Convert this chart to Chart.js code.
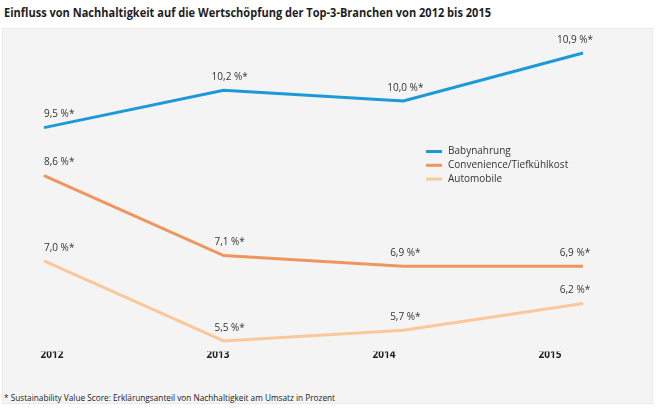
<!DOCTYPE html>
<html>
<head>
<meta charset="utf-8">
<script src="https://cdn.jsdelivr.net/npm/chart.js@4"></script>
<style>
  html, body { margin: 0; padding: 0; background: #ffffff; width: 656px; height: 409px; overflow: hidden; }
  #title { position: absolute; left: 4px; top: 3px; font-family: "Liberation Sans Narrow", "Open Sans", sans-serif; font-weight: bold; font-size: 13px; color: #1e1e1e; white-space: nowrap; transform-origin: 0 0; }
  #panel { position: absolute; left: 2px; top: 28px; width: 649px; height: 374px; background: #f4f4f4; border: 1px solid #ebebeb; }
  #note { position: absolute; left: 4px; top: 391px; font-family: "Liberation Sans Narrow", "Open Sans", sans-serif; font-size: 9px; color: #222; white-space: nowrap; transform-origin: 0 0; }
  #wrap { position: absolute; left: 0; top: 0; width: 656px; height: 409px; }
</style>
</head>
<body>
<div id="title">Einfluss von Nachhaltigkeit auf die Wertschöpfung der Top-3-Branchen von 2012 bis 2015</div>
<div id="panel"></div>
<div id="note">* Sustainability Value Score: Erklärungsanteil von Nachhaltigkeit am Umsatz in Prozent</div>
<div id="wrap"><canvas id="c" width="656" height="409"></canvas></div>
<script>
const years = ["2012", "2013", "2014", "2015"];
const seriesNames = ["Babynahrung", "Convenience/Tiefkühlkost", "Automobile"];
const babynahrung = [9.5, 10.2, 10.0, 10.9];
const convenience = [8.6, 7.1, 6.9, 6.9];
const automobile = [7.0, 5.5, 5.7, 6.2];
const seriesColors = ["#1b9ad7", "#ee965e", "#fac89a"];

function fitWidth(id, target) {
  const el = document.getElementById(id);
  const w = el.getBoundingClientRect().width;
  if (w > 0) el.style.transform = "scaleX(" + (target / w) + ")";
}
fitWidth("title", 487);
fitWidth("note", 331);

const labelPlugin = {
  id: "valueLabels",
  afterDatasetsDraw(chart) {
    const ctx = chart.ctx;
    ctx.save();
    ctx.font = "10px 'Open Sans', sans-serif";
    ctx.fillStyle = "#333333";
    ctx.textBaseline = "middle";
    chart.data.datasets.forEach((ds, di) => {
      const meta = chart.getDatasetMeta(di);
      meta.data.forEach((pt, i) => {
        const txt = ds.data[i].toFixed(1).replace(".", ",") + " %*";
        let x = pt.x;
        if (i === 0) { ctx.textAlign = "left"; }
        else { ctx.textAlign = "center"; x += [0, 6, 2, -8][i]; }
        ctx.fillText(txt, x, pt.y - 13);
      });
    });
    ctx.restore();
  }
};

const legendPlugin = {
  id: "customLegend",
  afterDraw(chart) {
    const ctx = chart.ctx;
    ctx.save();
    ctx.font = "10px 'Open Sans', sans-serif";
    ctx.textBaseline = "middle";
    ctx.textAlign = "left";
    chart.data.datasets.forEach((ds, i) => {
      const y = 151.5 + i * 13.8;
      ctx.strokeStyle = ds.borderColor;
      ctx.lineWidth = 3;
      ctx.beginPath();
      ctx.moveTo(426, y);
      ctx.lineTo(442, y);
      ctx.stroke();
      ctx.fillStyle = "#333333";
      ctx.fillText(ds.label, 448, y);
    });
    ctx.restore();
  }
};

const seriesData = [babynahrung, convenience, automobile];
new Chart(document.getElementById("c"), {
  type: "line",
  data: {
    labels: years,
    datasets: seriesData.map((d, i) => ({
      label: seriesNames[i],
      data: d,
      borderColor: seriesColors[i],
      backgroundColor: seriesColors[i],
      borderWidth: 3,
      pointRadius: 0,
      tension: 0,
      fill: false
    }))
  },
  options: {
    responsive: false,
    animation: false,
    devicePixelRatio: 1,
    layout: { padding: { left: 44, right: 73, top: 31.6, bottom: 49.4 } },
    plugins: { legend: { display: false }, tooltip: { enabled: false }, title: { display: false } },
    scales: {
      x: { display: false, offset: false },
      xl: {
        type: "linear",
        position: "bottom",
        min: -0.048,
        max: 3.199,
        afterBuildTicks: (scale) => { scale.ticks = years.map((y, i) => ({ value: i })); },
        grid: { display: false, drawTicks: false },
        border: { display: false },
        ticks: {
          padding: -2,
          autoSkip: false,
          maxRotation: 0,
          color: "#1e1e1e",
          font: { family: "'Open Sans', sans-serif", size: 10, weight: "bold" },
          callback: (v) => years[v]
        }
      },
      y: { display: false, min: 5.3, max: 11.3 }
    }
  },
  plugins: [labelPlugin, legendPlugin]
});
</script>
</body>
</html>
